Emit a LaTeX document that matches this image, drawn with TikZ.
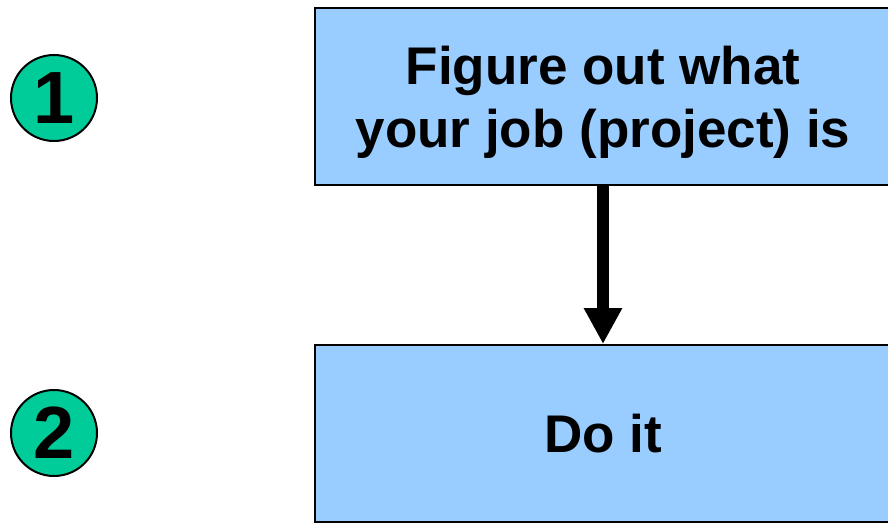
\documentclass[tikz,border=0pt]{standalone}
\usepackage{fontspec}
\setmainfont{Liberation Sans}
\usetikzlibrary{arrows.meta}
\definecolor{boxblue}{HTML}{99CCFF}
\definecolor{numgreen}{HTML}{00CC99}
\begin{document}
\begin{tikzpicture}[x=1pt,y=-1pt,
	stepbox/.style={draw,line width=2pt,fill=boxblue,minimum width=576pt,minimum height=177pt,inner sep=0pt,align=center,text depth=0pt,font=\fontsize{53}{63}\selectfont\bfseries},
	numdisc/.style={circle,draw,line width=2pt,fill=numgreen,minimum size=86pt,inner sep=0pt,font=\fontsize{74}{80}\selectfont\bfseries}]
	\useasboundingbox (0,0) rectangle (888,524);
	\node[numdisc] (one) at (54,98) {1};
	\node[numdisc] (two) at (54,433) {2};
	\node[stepbox] (job) at (603,96.5) {Figure out what\\your job (project) is};
	\node[stepbox] (doit) at (603,433.5) {Do it};
	\draw[line width=12pt,-{Triangle[length=36pt,width=36pt]}] (job.south) -- (doit.north);
\end{tikzpicture}
\end{document}
